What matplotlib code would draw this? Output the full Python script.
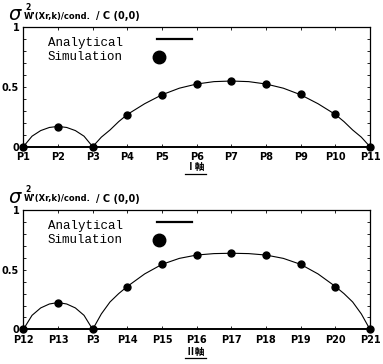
import matplotlib.pyplot as plt
from matplotlib.lines import Line2D

plt.rcParams['font.family'] = ['DejaVu Sans', 'Noto Sans CJK JP']

# 横軸のラベル
top_labels = ['P1', 'P2', 'P3', 'P4', 'P5', 'P6', 'P7', 'P8', 'P9', 'P10', 'P11']
bot_labels = ['P12', 'P13', 'P3', 'P14', 'P15', 'P16', 'P17', 'P18', 'P19', 'P20', 'P21']

# シミュレーション値 (各点)
top_sim = [0, 0.167, 0, 0.268, 0.433, 0.528, 0.548, 0.525, 0.441, 0.274, 0]
bot_sim = [0, 0.223, 0, 0.357, 0.545, 0.623, 0.637, 0.623, 0.545, 0.357, 0]

# 解析値 (図から読み取った曲線)
ana_x = [0, 0.25, 0.5, 0.75, 1, 1.25, 1.5, 1.75, 2,
         2.25, 2.5, 2.75, 3, 3.5, 4, 4.5, 5, 5.5, 6,
         6.5, 7, 7.5, 8, 8.5, 9, 9.25, 9.5, 9.75, 10]
top_ana = [0, 0.088, 0.135, 0.161, 0.17, 0.161, 0.135, 0.088, 0,
           0.08, 0.14, 0.21, 0.27, 0.36, 0.435, 0.49, 0.525, 0.545, 0.55,
           0.545, 0.525, 0.49, 0.435, 0.36, 0.27, 0.21, 0.14, 0.08, 0]
bot_ana = [0, 0.118, 0.18, 0.213, 0.225, 0.213, 0.18, 0.118, 0,
           0.13, 0.23, 0.30, 0.36, 0.465, 0.545, 0.595, 0.623, 0.635, 0.638,
           0.635, 0.623, 0.595, 0.545, 0.465, 0.36, 0.30, 0.23, 0.13, 0]

W, H = 383, 364
fig = plt.figure(figsize=(W / 100, H / 100), dpi=100)
ax1 = fig.add_axes([0.061, 0.597, 0.905, 0.328])
ax2 = fig.add_axes([0.061, 0.095, 0.905, 0.328])

# (axes, labels, sim, ana, 横軸名, 軸上端のpx, 横軸名のy)
panels = [(ax1, top_labels, top_sim, top_ana, 'Ⅰ軸', 27.3, 0.541),
          (ax2, bot_labels, bot_sim, bot_ana, 'Ⅱ軸', 210.0, 0.034)]

for ax, labels, sim, ana, xname, ytop_px, ylab in panels:
    ax.plot(ana_x, ana, color='black', lw=0.8, zorder=2)
    ax.plot(range(len(sim)), sim, 'o', color='black', ms=5, zorder=3, clip_on=False)
    ax.set_xlim(0, 10)
    ax.set_ylim(0, 1)
    ax.set_xticks(range(len(labels)))
    ax.set_xticklabels(labels, fontsize=7, fontweight='bold')
    ax.set_yticks([0, 0.5, 1])
    ax.set_yticklabels(['0', '0.5', '1'], fontsize=7, fontweight='bold')
    ax.set_yticks([i / 10 for i in range(11)], minor=True)
    ax.tick_params(axis='both', which='both', direction='in', length=2.5,
                   width=0.6, top=True, right=True, pad=3)
    ax.tick_params(axis='x', length=2, pad=4)
    for s in ax.spines.values():
        s.set_linewidth(0.9)
    ax.spines['bottom'].set_linewidth(1.4)

    # 凡例
    ax.text(0.071, 0.868, 'Analytical', transform=ax.transAxes, fontsize=9,
            family='Liberation Mono', va='center', ha='left')
    ax.text(0.071, 0.751, 'Simulation', transform=ax.transAxes, fontsize=9,
            family='Liberation Mono', va='center', ha='left')
    ax.plot([0.385, 0.486], [0.902, 0.902], color='black', lw=1.6,
            transform=ax.transAxes)
    ax.plot([0.39], [0.751], 'o', color='black', ms=9, transform=ax.transAxes)

    # 縦軸タイトル
    fy = lambda px: 1 - px / H
    fig.text(8 / W, fy(ytop_px - 7), r'$\sigma$', fontsize=14,
             va='baseline', ha='left')
    fig.text(25 / W, fy(ytop_px - 20), '2', fontsize=5.5, fontweight='bold',
             va='center', ha='left')
    fig.text(24 / W, fy(ytop_px - 11), "W'(Xr,k)/cond.", fontsize=6,
             fontweight='bold', va='center', ha='left')
    fig.text(96 / W, fy(ytop_px - 11), '/ C (0,0)', fontsize=7,
             fontweight='bold', va='center', ha='left')

    # 横軸タイトル (下線付き)
    fig.text(0.51, ylab, xname, fontsize=7, fontweight='bold',
             ha='center', va='center', family=['Noto Sans CJK JP', 'DejaVu Sans'])
    fig.add_artist(Line2D([0.482, 0.538], [ylab - 0.018, ylab - 0.018],
                          color='black', lw=0.9, transform=fig.transFigure))

fig.savefig('out.png', dpi=100)
